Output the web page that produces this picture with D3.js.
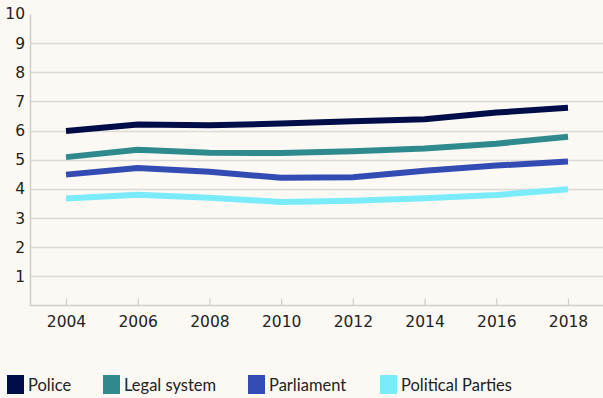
<!DOCTYPE html>
<html>
<head>
<meta charset="utf-8">
<script src="https://cdn.jsdelivr.net/npm/d3@7"></script>
<style>
  html, body { margin: 0; padding: 0; background: #fcf9f4; }
  #chart { width: 603px; height: 398px; }
</style>
</head>
<body>
<div id="chart"></div>
<script>
const years = [2004, 2006, 2008, 2010, 2012, 2014, 2016, 2018];
const yTicks = [1, 2, 3, 4, 5, 6, 7, 8, 9, 10];
const seriesNames = ['Police', 'Legal system', 'Parliament', 'Political Parties'];
const seriesColors = ['#000d48', '#2e8a8c', '#334cb4', '#7aebf9'];

const police = [5.99, 6.21, 6.18, 6.24, 6.32, 6.39, 6.62, 6.78];
const legalSystem = [5.09, 5.34, 5.24, 5.23, 5.29, 5.39, 5.55, 5.79];
const parliament = [4.49, 4.72, 4.59, 4.38, 4.40, 4.62, 4.80, 4.94];
const politicalParties = [3.67, 3.80, 3.70, 3.55, 3.59, 3.68, 3.79, 3.99];

const seriesValues = [police, legalSystem, parliament, politicalParties];

const width = 603, height = 398;
const margin = { top: 14, right: 0, bottom: 93, left: 30 };
const tickFont = '"DejaVu Sans", Verdana, sans-serif';

const svg = d3.select('#chart')
  .append('svg')
  .attr('width', width)
  .attr('height', height);

// Scales
const x = d3.scalePoint()
  .domain(years)
  .range([66, 568]);

const y = d3.scaleLinear()
  .domain([0, 10])
  .range([height - margin.bottom + 0.5, margin.top]);

// Gridlines (none at 10)
svg.append('g')
  .selectAll('line')
  .data(yTicks.filter(d => d < 10))
  .join('line')
  .attr('x1', margin.left)
  .attr('x2', width)
  .attr('y1', d => Math.round(y(d)) + 0.5)
  .attr('y2', d => Math.round(y(d)) + 0.5)
  .attr('stroke', '#dcdad6')
  .attr('stroke-width', 1.5);

// Y axis
const yAxis = svg.append('g')
  .attr('transform', `translate(${margin.left},0)`)
  .call(d3.axisLeft(y).tickValues(yTicks).tickSize(0).tickPadding(5));
yAxis.select('.domain').attr('stroke', '#cfcdc9').attr('stroke-width', 1.5);
yAxis.selectAll('.tick text')
  .style('font-family', tickFont)
  .style('font-size', '15.5px')
  .style('fill', '#222');

// X axis
const xAxis = svg.append('g')
  .attr('transform', `translate(0,${y(0)})`)
  .call(d3.axisBottom(x).tickSizeInner(-7).tickSizeOuter(0).tickPadding(10));
xAxis.select('.domain').attr('d', `M${margin.left},0H${width}`)
  .attr('stroke', '#cfcdc9').attr('stroke-width', 1.5);
xAxis.selectAll('.tick line').attr('stroke', '#cfcdc9').attr('stroke-width', 1.2);
xAxis.selectAll('.tick text')
  .style('font-family', tickFont)
  .style('font-size', '15.5px')
  .style('fill', '#222');

// Lines
const line = d3.line()
  .x((d, i) => x(years[i]))
  .y(d => y(d));

svg.append('g')
  .selectAll('path')
  .data(seriesValues)
  .join('path')
  .attr('fill', 'none')
  .attr('stroke', (d, i) => seriesColors[i])
  .attr('stroke-width', 6)
  .attr('stroke-linejoin', 'round')
  .attr('d', line);

// Legend
const legendX = [7, 103, 248, 380];
const legend = svg.append('g');
const items = legend.selectAll('g')
  .data(seriesNames)
  .join('g')
  .attr('transform', (d, i) => `translate(${legendX[i]},375)`);
items.append('rect')
  .attr('width', 17)
  .attr('height', 19)
  .attr('fill', (d, i) => seriesColors[i]);
items.append('text')
  .attr('x', 21)
  .attr('y', 15.5)
  .style('font-family', 'Lato, "Noto Sans", sans-serif')
  .style('font-size', '16.5px')
  .style('fill', '#222')
  .text(d => d);
</script>
</body>
</html>
